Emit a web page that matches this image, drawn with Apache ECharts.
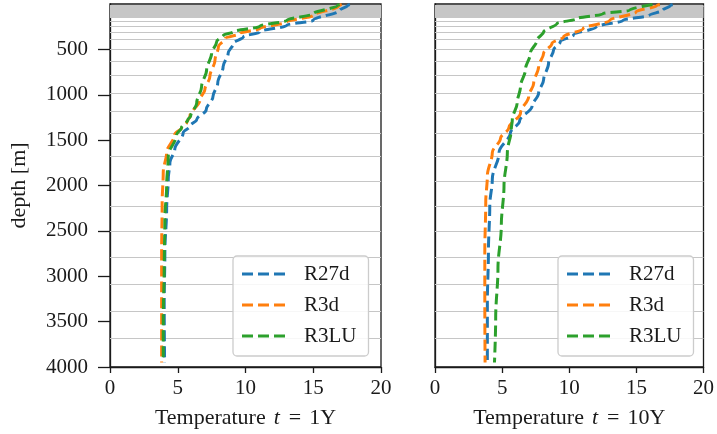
<!DOCTYPE html>
<html>
<head>
<meta charset="utf-8">
<script src="https://cdn.jsdelivr.net/npm/echarts@6/dist/echarts.min.js"></script>
<style>
  html, body { margin: 0; padding: 0; background: #ffffff; }
  #chart { width: 717px; height: 434px; }
</style>
</head>
<body>
<div id="chart"></div>
<script>
// ---------- data ----------
const seriesNames = ['R27d', 'R3d', 'R3LU'];
const panelTitles = ['1Y', '10Y'];
const xTicks = [0, 5, 10, 15, 20];
const yTicks = [500, 1000, 1500, 2000, 2500, 3000, 3500, 4000];

// model layer interfaces (grey horizontal lines), depth in m
const layerDepths = [10, 20, 30, 40, 50, 60, 70, 80, 90, 100, 110, 120, 130,
  150, 194, 245, 311, 387, 497, 628, 781, 978, 1186, 1426, 1678, 1951, 2225,
  2509, 2793, 3089, 3384, 3680];

// t = 1Y
const r27d_1Y_depth = [5, 15, 70, 180, 234, 307, 362, 434, 544, 690, 872, 1018, 1164, 1273, 1346, 1419, 1601, 1747, 1929, 2257, 2731, 3278, 3950];
const r27d_1Y_temp  = [17.7, 17.55, 16.95, 15.0, 13.05, 11.05, 9.85, 9.1, 8.72, 8.35, 7.95, 7.6, 7.1, 6.4, 5.9, 5.4, 4.78, 4.42, 4.3, 4.18, 4.05, 4.0, 4.03];

const r3d_1Y_depth = [5, 26, 125, 198, 270, 325, 380, 471, 617, 800, 945, 1054, 1237, 1310, 1364, 1437, 1637, 1856, 2184, 2731, 3461, 3950];
const r3d_1Y_temp  = [17.1, 16.85, 15.0, 13.05, 11.05, 9.58, 8.5, 8.0, 7.75, 7.37, 7.0, 6.64, 5.9, 5.65, 5.28, 4.78, 4.18, 3.93, 3.85, 3.81, 3.81, 3.81];

const r3lu_1Y_depth = [5, 15, 107, 180, 245, 307, 343, 416, 544, 726, 909, 1090, 1237, 1273, 1364, 1437, 1675, 2002, 2367, 2914, 3461, 3950];
const r3lu_1Y_temp  = [16.95, 16.8, 15.0, 13.05, 11.05, 9.1, 8.37, 7.87, 7.5, 7.13, 6.76, 6.4, 5.95, 5.75, 5.28, 4.92, 4.3, 4.18, 4.05, 4.0, 3.93, 3.93];

// t = 10Y
const r27d_10Y_depth = [5, 15, 70, 125, 180, 252, 343, 416, 507, 653, 836, 981, 1127, 1290, 1419, 1637, 1929, 2221, 2731, 3278, 3950];
const r27d_10Y_temp  = [17.7, 17.55, 16.95, 15.95, 14.0, 12.03, 10.3, 9.33, 8.83, 8.46, 8.09, 7.72, 7.23, 6.3, 5.62, 4.77, 4.27, 4.08, 3.98, 3.9, 3.9];

const r3d_10Y_depth = [5, 15, 88, 180, 270, 362, 434, 544, 690, 872, 1018, 1200, 1364, 1480, 1637, 1893, 2184, 2731, 3278, 3950];
const r3d_10Y_temp  = [16.75, 16.55, 14.97, 13.02, 11.04, 9.58, 8.71, 8.09, 7.72, 7.35, 6.98, 6.37, 5.5, 4.88, 4.27, 3.9, 3.78, 3.71, 3.71, 3.73];

const r3lu_10Y_depth = [5, 70, 107, 161, 216, 307, 398, 544, 726, 909, 1090, 1273, 1382, 1637, 2002, 2439, 2914, 3461, 3950];
const r3lu_10Y_temp  = [16.2, 14.47, 12.53, 10.56, 9.08, 8.09, 7.6, 7.1, 6.73, 6.37, 6.12, 5.76, 5.68, 5.39, 5.14, 4.94, 4.69, 4.52, 4.43];

const panels = [
  [[r27d_1Y_temp, r27d_1Y_depth], [r3d_1Y_temp, r3d_1Y_depth], [r3lu_1Y_temp, r3lu_1Y_depth]],
  [[r27d_10Y_temp, r27d_10Y_depth], [r3d_10Y_temp, r3d_10Y_depth], [r3lu_10Y_temp, r3lu_10Y_depth]]
];

// ---------- styling ----------
const FONT = 'Liberation Serif';
const TXT = '#1a1a1a';
const colors = ['#1f77b4', '#ff7f0e', '#2ca02c'];
const gridPos = [{ left: 110, top: 4, width: 271, height: 365 },
                 { left: 435, top: 4, width: 271, height: 365 }];
const dashIcon = 'path://M0,0H11V3H0Z M16,0H27V3H16Z M32,0H43V3H32Z';

const chart = echarts.init(document.getElementById('chart'), null, { renderer: 'canvas' });

const grids = gridPos.map(g => ({
  left: g.left, top: g.top, width: g.width, height: g.height,
  show: true, borderColor: TXT, borderWidth: 1.3, backgroundColor: 'transparent'
}));

const xAxes = panelTitles.map((t, i) => ({
  type: 'value', gridIndex: i, min: xTicks[0], max: xTicks[xTicks.length - 1], interval: 5,
  name: '{a|Temperature}{b|t}{c|=}{a|1' + t.slice(-1 * (t.length - 1)) + '}',
  nameLocation: 'middle', nameGap: 40,
  nameTextStyle: {
    rich: {
      a: { fontFamily: FONT, fontSize: 22, color: TXT },
      b: { fontFamily: FONT, fontSize: 22, color: TXT, fontStyle: 'italic', padding: [0, 9, 0, 8] },
      c: { fontFamily: FONT, fontSize: 22, color: TXT, padding: [0, 8, 0, 0] }
    }
  },
  axisLine: { show: true, onZero: false, lineStyle: { color: TXT, width: 1.3 } },
  axisTick: { show: true, length: 6, lineStyle: { color: TXT, width: 1.3 } },
  axisLabel: { show: true, margin: 11, fontFamily: FONT, fontSize: 21, color: TXT },
  splitLine: { show: false }
}));
// fix name text per panel (1Y / 10Y)
xAxes[0].name = '{a|Temperature}{b|t}{c|=}{a|' + panelTitles[0] + '}';
xAxes[1].name = '{a|Temperature}{b|t}{c|=}{a|' + panelTitles[1] + '}';

const yAxes = panelTitles.map((t, i) => ({
  type: 'value', gridIndex: i, inverse: true, min: 0, max: 4000, interval: 500,
  name: i === 0 ? 'depth [m]' : '',
  nameLocation: 'middle', nameGap: 80,
  nameTextStyle: { fontFamily: FONT, fontSize: 22, color: TXT },
  axisLine: { show: true, onZero: false, lineStyle: { color: TXT, width: 1.3 } },
  axisTick: { show: i === 0, length: 12, customValues: yTicks, lineStyle: { color: TXT, width: 1.3 } },
  axisLabel: {
    show: i === 0, margin: 22, fontFamily: FONT, fontSize: 21, color: TXT,
    customValues: yTicks,
    formatter: v => (yTicks.indexOf(v) >= 0 ? String(v) : '')
  },
  splitLine: { show: false }
}));

const series = [];
panels.forEach((panel, pi) => {
  // layer interface lines
  series.push({
    type: 'line', name: 'layers' + pi, xAxisIndex: pi, yAxisIndex: pi, data: [], z: 1,
    silent: true,
    markLine: {
      silent: true, symbol: ['none', 'none'], animation: false, z: 1,
      label: { show: false },
      lineStyle: { color: '#c6c6c6', width: 1.2, type: 'solid' },
      emphasis: { disabled: true },
      data: layerDepths.map(d => ({ yAxis: d }))
    }
  });
  panel.forEach((pair, si) => {
    const temps = pair[0], depths = pair[1];
    series.push({
      type: 'line', name: seriesNames[si], xAxisIndex: pi, yAxisIndex: pi, z: 3 + si,
      showSymbol: false, symbol: 'none', smooth: 0.35, smoothMonotone: 'y',
      color: colors[si],
      lineStyle: { color: colors[si], width: 3, type: [11, 5] },
      emphasis: { disabled: true },
      data: temps.map((v, k) => [v, depths[k]])
    });
  });
});

const legends = gridPos.map(g => ({
  data: seriesNames.map(n => ({ name: n, icon: dashIcon })), orient: 'vertical',
  left: g.left + 123, top: 256,
  itemWidth: 43, itemHeight: 3, itemGap: 9,
  padding: [7, 12, 9, 9],
  backgroundColor: 'rgba(255,255,255,0.85)', borderColor: '#cccccc', borderWidth: 1.3, borderRadius: 4,
  selectedMode: false,
  textStyle: { fontFamily: FONT, fontSize: 21, color: TXT, lineHeight: 22, padding: [0, 0, 0, 14] }
}));

chart.setOption({
  animation: false,
  backgroundColor: '#ffffff',
  grid: grids,
  xAxis: xAxes,
  yAxis: yAxes,
  legend: legends,
  series: series
});
</script>
</body>
</html>
